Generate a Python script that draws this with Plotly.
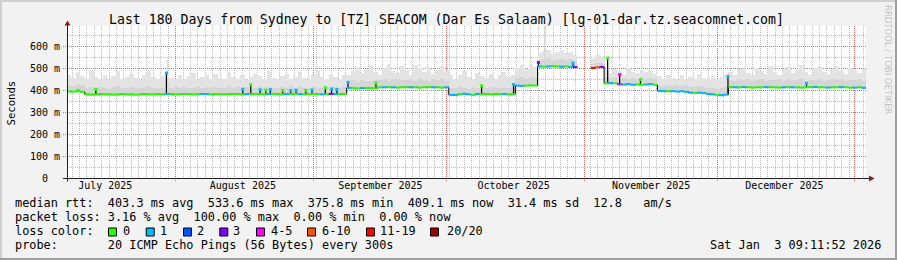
import math
import pandas as pd
import plotly.graph_objects as go

# ---------------- data ----------------
START = "2025-07-07 09:11:52"
END = "2026-01-03 09:11:52"

# daily median RTT (ms), one value per day from START
median_ms = (
    [393, 393, 394, 392]
    + [380, 379, 380, 381, 380, 380, 379, 380, 381, 380, 380, 379, 380, 381, 380, 380, 381, 380]
    + [382]
    + [381, 380, 381, 382, 381, 380, 381, 382, 381, 380, 381, 381, 380, 381, 382, 381, 380, 381, 381, 382,
       381, 380, 381, 382, 381, 380, 381, 381, 382, 381, 380, 381, 382, 381, 380, 381, 382, 381, 381, 382]
    + [409, 408, 407, 408, 409, 408, 408]
    + [412, 412, 413, 412, 411, 412, 413, 412, 412, 411, 412, 413, 412, 412, 411, 412]
    + [378, 377, 381, 383, 380, 378, 382, 381]
    + [381, 380, 381, 382, 381, 380, 381]
    + [420, 419, 420, 421, 420]
    + [507, 506, 507, 508, 507, 506, 507, 505, 504]
    + [None, None, None]
    + [500, 503, 505]
    + [430, 431, 430]
    + [426, 425, 426, 424, 425, 424, 425, 426, 424]
    + [396, 395, 394, 395, 393, 394, 392]
    + [388, 387, 388, 386]
    + [382, 380, 378, 376, 379]
    + [413, 412, 412, 413, 412, 411, 412, 412, 413, 412, 412, 411, 412, 413, 412, 412, 411, 412, 413, 413,
       412, 412, 411, 412, 412, 413, 412, 411, 411, 412, 410]
)

# inner (darker) smoke band top (ms)
smoke_mid_ms = (
    [425, 420, 428, 422]
    + [410, 412, 408, 415, 410, 406, 412, 418, 409, 411, 414, 407, 410, 413, 416, 409, 411, 408]
    + [430]
    + [410, 412, 408, 414, 411, 407, 415, 409, 412, 410, 413, 408, 411, 416, 409, 412, 410, 414, 408, 411,
       415, 409, 412, 410, 407, 413, 411, 416, 409, 412, 410, 408, 414, 411, 409, 413, 410, 415, 408, 412]
    + [440, 445, 438, 447, 442, 439, 446]
    + [445, 450, 442, 448, 452, 444, 447, 451, 443, 449, 446, 441, 450, 445, 448, 443]
    + [410, 408, 414, 411, 406, 412, 409, 413]
    + [410, 413, 408, 411, 414, 409, 412]
    + [455, 460, 452, 458, 455]
    + [535, 540, 545, 532, 538, 542, 536, 539, 530]
    + [None, None, None]
    + [520, 525, 522]
    + [458, 455, 460]
    + [452, 456, 449, 455, 451, 457, 450, 454, 452]
    + [420, 418, 424, 419, 421, 417, 422]
    + [415, 412, 418, 414]
    + [408, 411, 405, 410, 412]
    + [445, 442, 448, 444, 450, 443, 446, 449, 441, 447, 445, 451, 443, 448, 444, 446, 450, 442, 447, 445,
       449, 443, 446, 450, 444, 448, 442, 447, 445, 449, 443]
)

# outer (light) smoke top (ms)
smoke_top_ms = (
    [470, 455, 480, 462, 448, 490, 458, 452, 470, 446, 462, 485, 450, 458, 472, 455, 447, 466, 492, 458,
     450, 463, 480]
    + [456, 448, 470, 452, 462, 478, 445, 458, 466, 450, 472, 455, 448, 484, 460, 452, 470, 446, 458, 475,
       462, 450, 488, 456, 448, 465, 472, 452, 460, 480, 455, 447, 468, 490, 458, 452, 474, 460, 450, 466]
    + [470, 488, 505, 478, 495, 512, 482, 470, 500, 520, 485, 476, 508, 492, 470, 515, 498, 480, 505, 474,
       490, 510, 486]
    + [470, 452, 466, 485, 458, 448, 476, 462, 455, 472, 450, 466, 480, 458, 470]
    + [500, 512, 495, 520, 505]
    + [570, 578, 580, 565, 575, 582, 568, 574, 560]
    + [None, None, None]
    + [540, 560, 555]
    + [490, 478, 495, 485, 470, 498, 482, 476, 492, 480, 488, 472]
    + [462, 448, 470, 455, 445, 466, 452, 460, 448, 472, 456, 444, 465, 450, 458, 470]
    + [480, 470, 495, 505, 478, 468, 500, 488, 472, 510, 482, 470, 496, 505, 476, 490, 512, 484, 470, 498,
       506, 480, 472, 494, 508, 486, 474, 500, 490, 478, 495]
)

# loss class per day (index into loss_colors)
loss_class = (
    [0, 0, 0, 0, 0, 0, 0, 0, 0, 0, 0, 0, 0, 0, 0, 0, 0, 0, 0, 0]
    + [0, 0, 1, 0, 0, 0, 0, 0, 0, 0, 1, 1, 0, 0, 0, 0, 0, 0, 0, 0]
    + [1, 0, 0, 0, 0, 1, 0, 0, 0, 1, 0, 0, 1, 0, 0, 0, 0, 1, 0, 3]
    + [1, 0, 0, 1, 0, 0, 1, 0, 0, 0, 0, 1, 0, 1, 0, 0, 0, 1, 0, 0]
    + [0, 0, 1, 0, 0, 1, 1, 1, 0, 1, 1, 0, 1, 0, 0, 0, 0, 0, 1, 0]
    + [0, 1, 1, 0, 0, 0, 1, 0, 1, 0, 0, 1, 0, 1, 3, 0, 0, 0, 6, 5]
    + [3, 0, 1, 0, 4, 1, 1, 1, 0, 0, 1, 1, 0, 1, 1, 0, 1, 1, 1, 1]
    + [1, 0, 1, 1, 1, 1, 0, 1, 1, 0, 1, 0, 1, 0, 0, 0, 0, 1, 0, 0]
    + [0, 1, 0, 1, 0, 0, 0, 0, 1, 0, 0, 1, 0, 0, 1, 0, 0, 1, 0, 1]
)

# short median excursions (day offset from START, peak ms, loss class of peak)
spike_day = [2.5, 6.5, 22.4, 39.6, 41.4, 43.5, 44.8, 45.8, 48.6, 50.4, 51.6, 53.8, 55.2, 58.2, 59.6,
             60.8, 63.3, 69.6, 93.4, 100.6, 106.2, 114.0, 121.8, 124.5, 129.2, 148.9, 166.6]
spike_top = [398, 403, 477, 404, 424, 401, 399, 402, 398, 397, 399, 398, 400, 410, 405,
             402, 435, 432, 419, 425, 525, 522, 545, 470, 447, 462, 430]
spike_class = [0, 0, 1, 1, 0, 1, 0, 1, 0, 1, 1, 0, 1, 0, 1,
               1, 1, 0, 0, 1, 3, 1, 0, 4, 0, 1, 1]

# thin smoke outliers (day offset, peak ms)
smoke_spike_day = [22.6, 107.6]
smoke_spike_top = [540, 690]

loss_labels = ["0", "1", "2", "3", "4-5", "6-10", "11-19", "20/20"]
loss_colors = ["#26ff00", "#00b8ff", "#0059ff", "#7e00ff", "#ff00ff", "#ff5500", "#ff0000", "#a10000"]

month_starts = ["2025-08-01", "2025-09-01", "2025-10-01", "2025-11-01", "2025-12-01", "2026-01-01"]
label_dates = ["2025-07-16", "2025-08-16", "2025-09-16", "2025-10-16", "2025-11-16", "2025-12-16"]
month_labels = ["July 2025", "August 2025", "September 2025", "October 2025", "November 2025", "December 2025"]

y_ticks = [0, 100, 200, 300, 400, 500, 600]
y_tick_text = ["0\u00a0\u00a0", "100 m", "200 m", "300 m", "400 m", "500 m", "600 m"]
y_minor = [50, 150, 250, 350, 450, 550, 650]
MINOR_X_HOURS = 40

title_text = "Last 180 Days from Sydney to [TZ] SEACOM (Dar Es Salaam) [lg-01-dar.tz.seacomnet.com]"
legend_rows = [
    "median rtt:  403.3 ms avg  533.6 ms max  375.8 ms min  409.1 ms now  31.4 ms sd  12.8   am/s",
    "packet loss: 3.16 % avg  100.00 % max  0.00 % min  0.00 % now",
    "loss color:",
    "probe:       20 ICMP Echo Pings (56 Bytes) every 300s",
]
stamp_text = "Sat Jan  3 09:11:52 2026"

# ---------------- geometry / style ----------------
W, H = 897, 260
PL, PR, PT, PB = 67, 866, 26, 178
Y_MAX = (PB - PT) / 0.22          # 0.22 px per ms, as in the original graph
MONO = "DejaVu Sans Mono"
GRID = "#bdbdbd"
MGRID = "#e36a6a"
AXIS = "#1f1f1f"
ARROW = "#801f1f"
BACK = "#f2f2f2"
DASH = "1px,1px"


def px(x):
    return (x - PL) / (PR - PL)


def py(y):
    return (PB - y) / (PB - PT)


t0 = pd.Timestamp(START)
t1 = pd.Timestamp(END)
DAY = pd.Timedelta(days=1)
n = len(median_ms)
day_start = [t0 + i * DAY for i in range(n + 1)]
day_mid = [t0 + i * DAY + DAY / 2 for i in range(n)]
DAY_MS = 86400000


# pixel helpers for grid decoration (snapped to pixel centres so dotted lines stay crisp)
def xcol(t):
    p = PL + (pd.Timestamp(t) - t0) / (t1 - t0) * (PR - PL)
    return math.floor(p - 0.5) + 0.5


def yrow(v):
    p = PB - v / Y_MAX * (PB - PT)
    return round(p) + 0.5


fig = go.Figure()

# smoke (outer light, inner darker)
fig.add_trace(go.Bar(
    x=day_mid,
    base=median_ms,
    y=[(t - m) if (t is not None and m is not None) else None for t, m in zip(smoke_top_ms, median_ms)],
    width=DAY_MS, marker=dict(color="#e3e3e3", line=dict(width=0)), hoverinfo="skip"))
fig.add_trace(go.Bar(
    x=day_mid,
    base=median_ms,
    y=[(t - m) if (t is not None and m is not None) else None for t, m in zip(smoke_mid_ms, median_ms)],
    width=DAY_MS, marker=dict(color="#d5d5d5", line=dict(width=0)), hoverinfo="skip"))

# thin smoke outliers
sx, sy = [], []
for d, top in zip(smoke_spike_day, smoke_spike_top):
    t = t0 + pd.Timedelta(days=d)
    sx += [t, t, None]
    sy += [median_ms[int(d)], top, None]
fig.add_trace(go.Scatter(x=sx, y=sy, mode="lines", line=dict(color="#d4d4d4", width=1), hoverinfo="skip"))

# black stepped median (gives the vertical transitions)
fig.add_trace(go.Scatter(x=day_start, y=median_ms + [median_ms[-1]], mode="lines", line_shape="hv",
                         line=dict(color="#000000", width=1), connectgaps=False, hoverinfo="skip"))

# excursions
ex, ey = [], []
for d, top in zip(spike_day, spike_top):
    t = t0 + pd.Timedelta(days=d)
    ex += [t, t, None]
    ey += [median_ms[int(d)], top, None]
fig.add_trace(go.Scatter(x=ex, y=ey, mode="lines", line=dict(color="#000000", width=1.2), hoverinfo="skip"))

# coloured median segments by loss class
for c, col in enumerate(loss_colors):
    xs, ys = [], []
    for i in range(n):
        if loss_class[i] == c and median_ms[i] is not None:
            xs += [day_start[i], day_start[i + 1], None]
            ys += [median_ms[i], median_ms[i], None]
    if xs:
        fig.add_trace(go.Scatter(x=xs, y=ys, mode="lines", line=dict(color=col, width=2), hoverinfo="skip"))

# excursion tips
for c, col in enumerate(loss_colors):
    tx = [t0 + pd.Timedelta(days=d) for d, k in zip(spike_day, spike_class) if k == c]
    ty = [top for top, k in zip(spike_top, spike_class) if k == c]
    if tx:
        fig.add_trace(go.Scatter(x=tx, y=ty, mode="markers",
                                 marker=dict(color=col, size=3, symbol="square", line=dict(width=0)),
                                 hoverinfo="skip"))

# ---------------- layout ----------------
shapes = []


def rect(x0, y0, x1, y1, color):
    shapes.append(dict(type="rect", xref="paper", yref="paper", x0=px(x0), x1=px(x1), y0=py(y0), y1=py(y1),
                       fillcolor=color, line=dict(width=0), layer="above"))


def seg(x0, y0, x1, y1, color, w=1):
    shapes.append(dict(type="line", xref="paper", yref="paper", x0=px(x0), x1=px(x1), y0=py(y0), y1=py(y1),
                       line=dict(color=color, width=w), layer="above"))


def tri(pts, color):
    path = "M " + " L ".join(f"{px(a)},{py(b)}" for a, b in pts) + " Z"
    shapes.append(dict(type="path", xref="paper", yref="paper", path=path, fillcolor=color,
                       line=dict(width=0), layer="above"))


def grid_path(segments, color):
    path = " ".join(f"M {px(a)},{py(b)} L {px(c)},{py(d)}" for a, b, c, d in segments)
    shapes.append(dict(type="path", xref="paper", yref="paper", path=path,
                       line=dict(color=color, width=1, dash=DASH), layer="below"))


# minor grid
month_cols = [xcol(m) for m in month_starts]
vx = []
g = pd.Timestamp("2025-07-07")
while g < t1:
    c = xcol(g)
    if g > t0 and all(abs(c - mc) > 2 for mc in month_cols):
        vx.append(c)
    g += pd.Timedelta(hours=MINOR_X_HOURS)
grid_path([(x, PT, x, PB) for x in vx], GRID)
grid_path([(PL, yrow(v), PR, yrow(v)) for v in y_minor], GRID)
# major grid (extends over the tick area)
grid_path([(c, PT, c, PB + 3) for c in month_cols], MGRID)
grid_path([(PL - 4, yrow(v), PR, yrow(v)) for v in y_ticks[1:]], MGRID)

# frame shading
rect(0, 0, W, 2, "#cfcfcf")
rect(0, 0, 2, H, "#cfcfcf")
rect(0, H - 2, W, H, "#9e9e9e")
rect(W - 2, 0, W, H, "#9e9e9e")

# axes with arrows
seg(67.5, 181.5, 67.5, 24, AXIS)
seg(63, 178.5, 870, 178.5, AXIS)
tri([(64.5, 25.5), (70.5, 25.5), (67.5, 20.5)], ARROW)
tri([(869, 175.5), (869, 181.5), (874.5, 178.5)], ARROW)

# legend colour boxes
box_x = [108, 145.7, 183, 219.3, 256, 307, 366, 430]
lab_x = [122.7, 160.0, 197.3, 233.3, 270.7, 321.7, 380.0, 447.0]
for bx, col in zip(box_x, loss_colors):
    shapes.append(dict(type="rect", xref="paper", yref="paper", x0=px(bx + 0.5), x1=px(bx + 8.5),
                       y0=py(228), y1=py(236), fillcolor=col, line=dict(color="#000000", width=1),
                       layer="above"))

annotations = []


def text(x, y, s, size, anchor="left", color="#000000", family=MONO, angle=0):
    annotations.append(dict(xref="paper", yref="paper", x=px(x), y=py(y), text=s.replace(" ", "\u00a0"),
                            showarrow=False, xanchor=anchor, yanchor="middle", textangle=angle,
                            borderpad=0, borderwidth=0,
                            font=dict(family=family, size=size, color=color)))


text(446.5, 19.5, title_text, 13.2, anchor="center")
row_y = [203.3, 217.3, 231.3, 245.3]
for r, s in zip(row_y, legend_rows):
    text(15, r, s, 11.86)
for lx, lab in zip(lab_x, loss_labels):
    text(lx, row_y[2], lab, 11.86)
text(881, row_y[3], stamp_text, 11.86, anchor="right")
text(10.5, 103, "Seconds", 10.6, anchor="center", angle=-90)
text(888, 60, "RRDTOOL / TOBI OETIKER", 8.5, anchor="center", color="#c4c4c4", family="DejaVu Sans", angle=90)

common = dict(zeroline=False, showline=False, fixedrange=True, showgrid=False)
fig.update_layout(
    width=W, height=H, autosize=False,
    margin=dict(l=PL, r=W - PR, t=PT, b=H - PB, pad=0),
    paper_bgcolor=BACK, plot_bgcolor="#ffffff",
    showlegend=False, barmode="overlay", bargap=0,
    xaxis=dict(type="date", range=[START, END], tickmode="array", tickvals=label_dates, ticktext=month_labels,
               ticks="", tickfont=dict(family=MONO, size=10, color="#000000"), **common),
    yaxis=dict(range=[0, Y_MAX], tickmode="array", tickvals=y_ticks, ticktext=y_tick_text,
               ticks="outside", ticklen=4, tickcolor="rgba(0,0,0,0)",
               tickfont=dict(family=MONO, size=10, color="#000000"), **common),
    shapes=shapes, annotations=annotations,
)

fig.write_html("out.html")
